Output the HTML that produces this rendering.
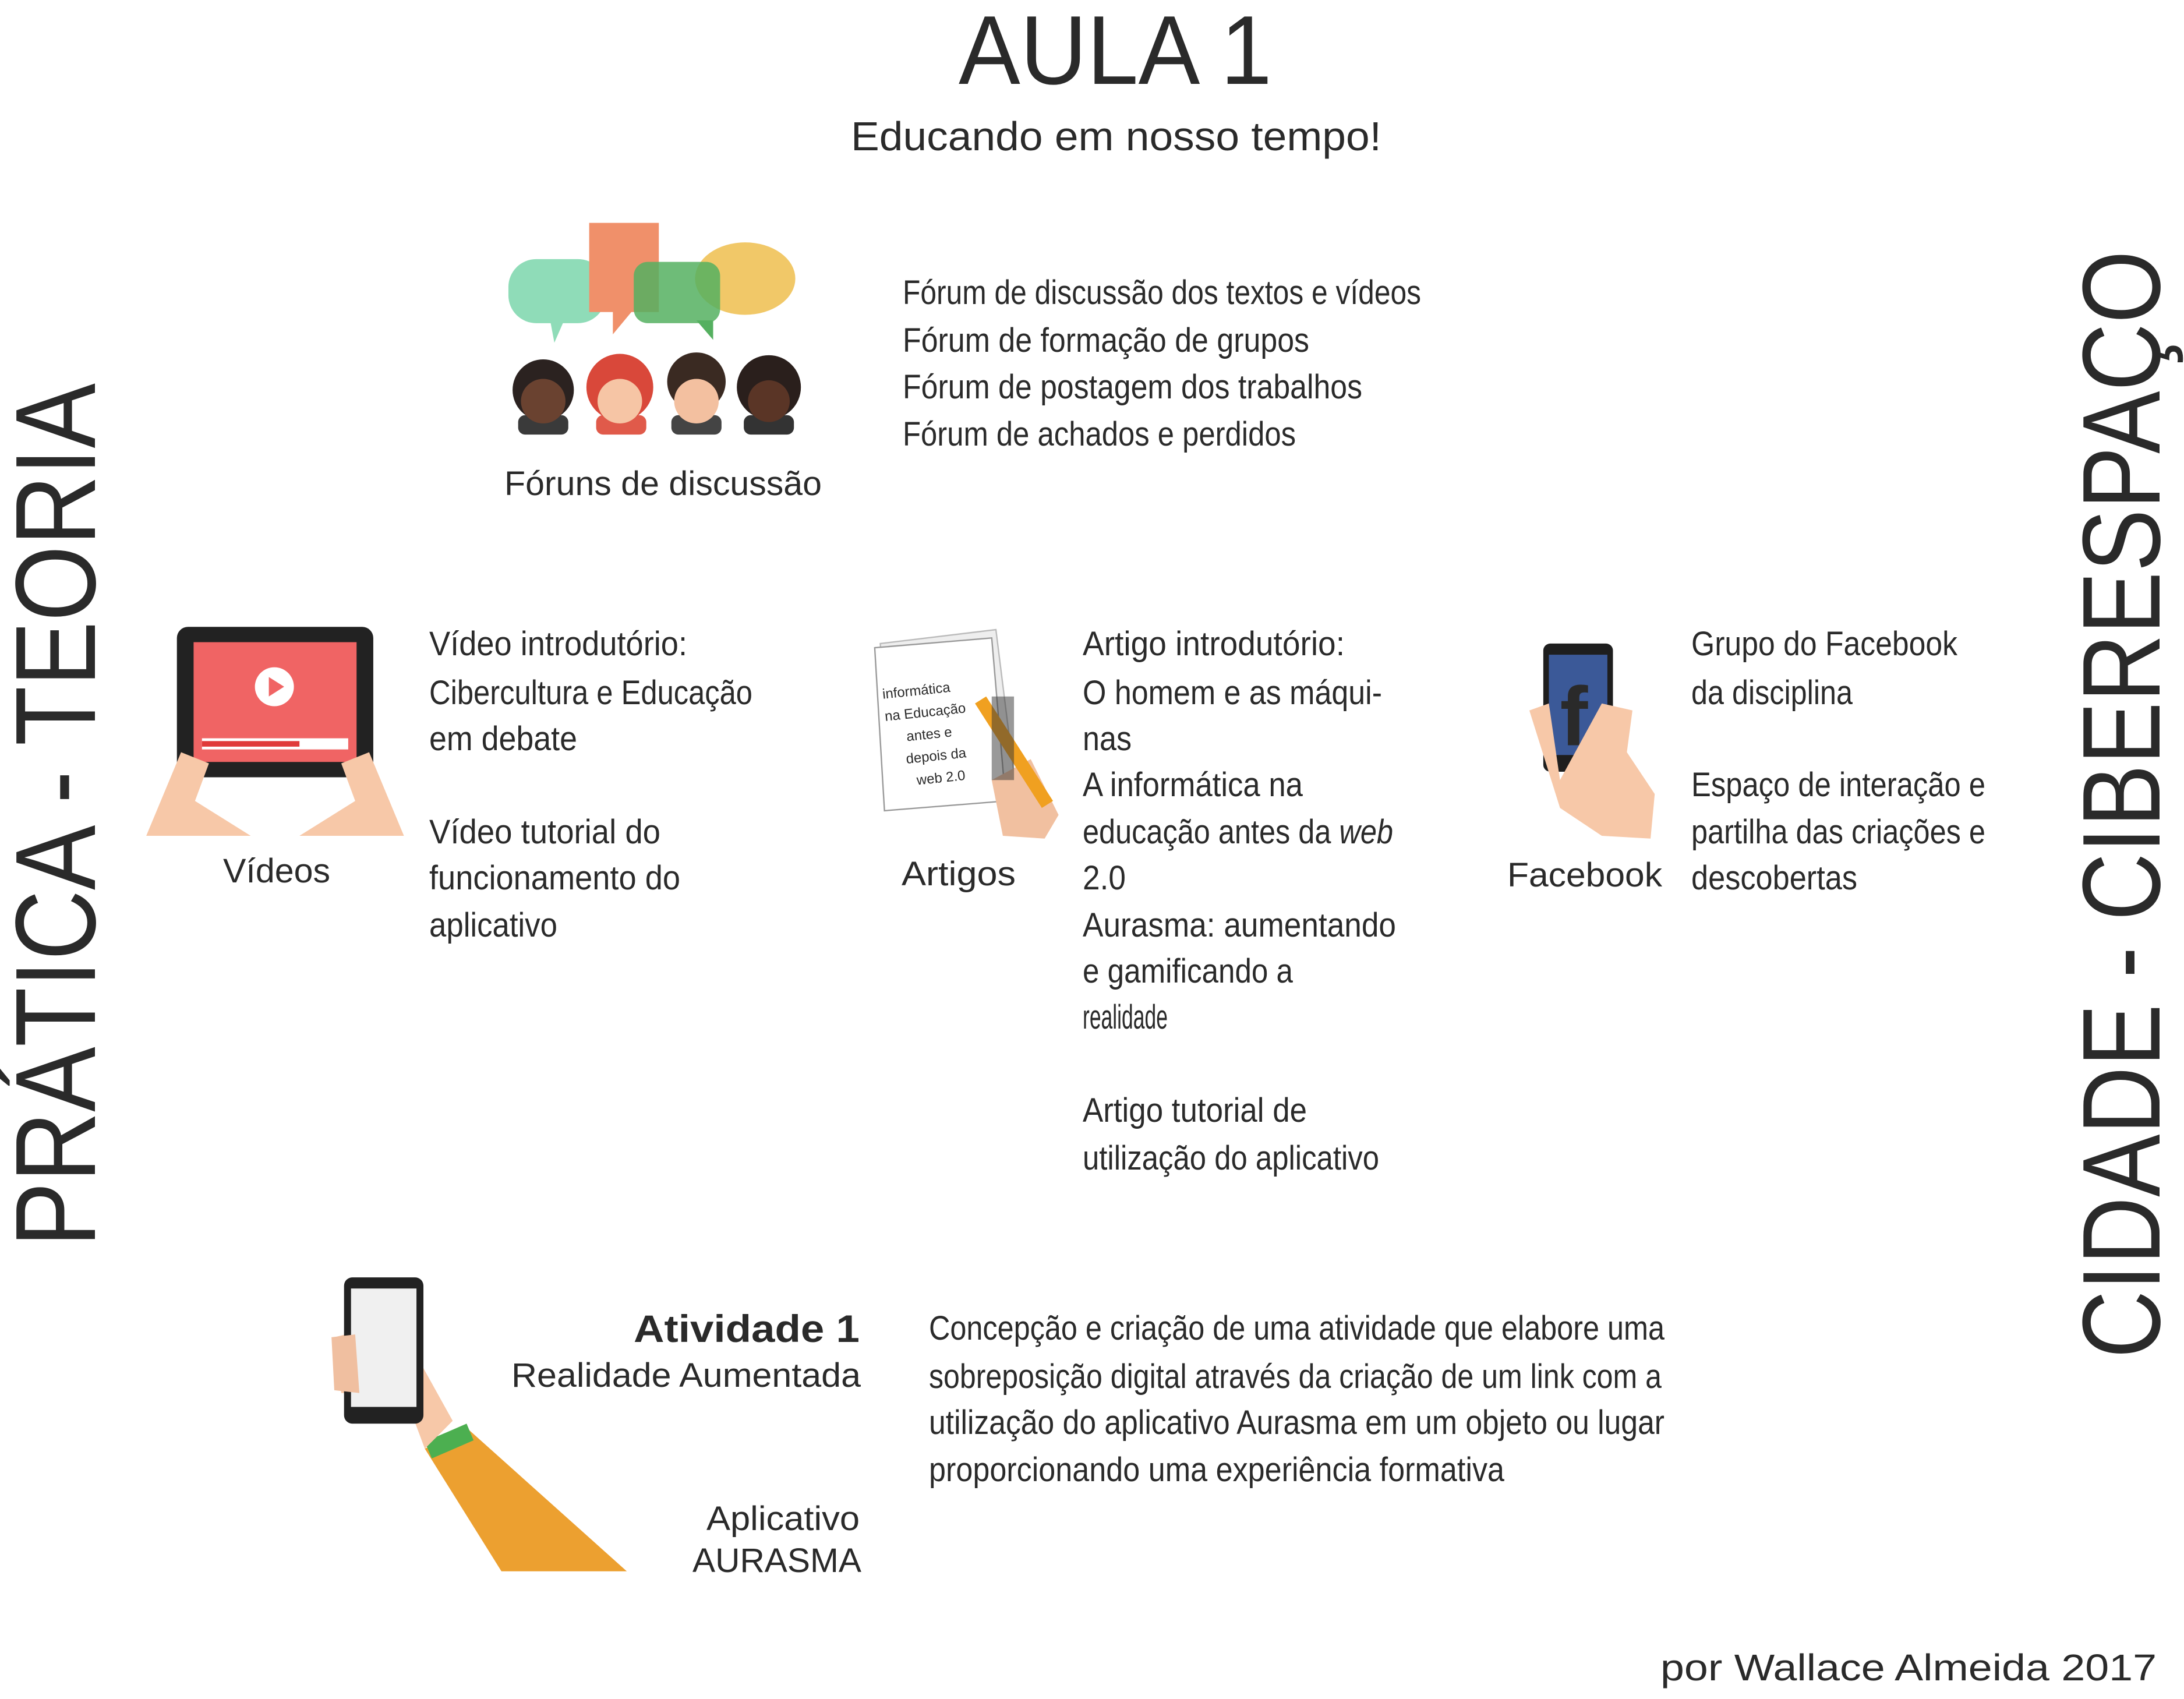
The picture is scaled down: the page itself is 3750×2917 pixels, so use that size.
<!DOCTYPE html>
<html><head><meta charset="utf-8"><style>
html,body{margin:0;padding:0;background:#fff;}
svg{display:block;}
text{font-family:"Liberation Sans",sans-serif;fill:#2a2a2a;}
</style></head><body>
<svg width="3750" height="2917" viewBox="0 0 3750 2917" xmlns="http://www.w3.org/2000/svg">
<rect width="3750" height="2917" fill="#fff"/>
<text x="1646" y="144" font-size="168" textLength="538" lengthAdjust="spacingAndGlyphs">AULA 1</text>
<text x="1461" y="258" font-size="70" textLength="911" lengthAdjust="spacingAndGlyphs">Educando em nosso tempo!</text>
<text transform="translate(163,2141) rotate(-90)" font-size="196" textLength="1483" lengthAdjust="spacingAndGlyphs">PRÁTICA - TEORIA</text>
<text transform="translate(3708,2332) rotate(-90)" font-size="190" textLength="1902" lengthAdjust="spacingAndGlyphs">CIDADE - CIBERESPAÇO</text>

<g font-size="58">
<text x="1550" y="522" textLength="890" lengthAdjust="spacingAndGlyphs">Fórum de discussão dos textos e vídeos</text>
<text x="1550" y="604" textLength="698" lengthAdjust="spacingAndGlyphs">Fórum de formação de grupos</text>
<text x="1550" y="684" textLength="789" lengthAdjust="spacingAndGlyphs">Fórum de postagem dos trabalhos</text>
<text x="1550" y="765" textLength="675" lengthAdjust="spacingAndGlyphs">Fórum de achados e perdidos</text>
<text x="866" y="850" textLength="545" lengthAdjust="spacingAndGlyphs">Fóruns de discussão</text>

<text x="737" y="1125" textLength="443" lengthAdjust="spacingAndGlyphs">Vídeo introdutório:</text>
<text x="737" y="1209" textLength="555" lengthAdjust="spacingAndGlyphs">Cibercultura e Educação</text>
<text x="737" y="1288" textLength="254" lengthAdjust="spacingAndGlyphs">em debate</text>
<text x="737" y="1448" textLength="397" lengthAdjust="spacingAndGlyphs">Vídeo  tutorial do</text>
<text x="737" y="1527" textLength="431" lengthAdjust="spacingAndGlyphs">funcionamento do</text>
<text x="737" y="1608" textLength="220" lengthAdjust="spacingAndGlyphs">aplicativo</text>
<text x="383" y="1515" textLength="184" lengthAdjust="spacingAndGlyphs">Vídeos</text>

<text x="1859" y="1125" textLength="450" lengthAdjust="spacingAndGlyphs">Artigo introdutório:</text>
<text x="1859" y="1209" textLength="514" lengthAdjust="spacingAndGlyphs">O homem e as máqui-</text>
<text x="1859" y="1288" textLength="84" lengthAdjust="spacingAndGlyphs">nas</text>
<text x="1859" y="1367" textLength="378" lengthAdjust="spacingAndGlyphs">A informática na</text>
<text x="1859" y="1448" textLength="533" lengthAdjust="spacingAndGlyphs">educação antes da <tspan font-style="italic">web</tspan></text>
<text x="1859" y="1527" textLength="74" lengthAdjust="spacingAndGlyphs">2.0</text>
<text x="1859" y="1608" textLength="538" lengthAdjust="spacingAndGlyphs">Aurasma: aumentando</text>
<text x="1859" y="1687" textLength="361" lengthAdjust="spacingAndGlyphs">e gamificando a</text>
<text x="1859" y="1766" textLength="146" lengthAdjust="spacingAndGlyphs">realidade</text>
<text x="1859" y="1926" textLength="385" lengthAdjust="spacingAndGlyphs">Artigo tutorial de</text>
<text x="1859" y="2008" textLength="509" lengthAdjust="spacingAndGlyphs">utilização do aplicativo</text>
<text x="1548" y="1520" textLength="196" lengthAdjust="spacingAndGlyphs">Artigos</text>

<text x="2904" y="1125" textLength="457" lengthAdjust="spacingAndGlyphs">Grupo do Facebook</text>
<text x="2904" y="1209" textLength="277" lengthAdjust="spacingAndGlyphs">da disciplina</text>
<text x="2904" y="1367" textLength="505" lengthAdjust="spacingAndGlyphs">Espaço de interação e</text>
<text x="2904" y="1448" textLength="505" lengthAdjust="spacingAndGlyphs">partilha das criações e</text>
<text x="2904" y="1527" textLength="285" lengthAdjust="spacingAndGlyphs">descobertas</text>
<text x="2588" y="1522" textLength="266" lengthAdjust="spacingAndGlyphs">Facebook</text>

<text x="1595" y="2300" textLength="1263" lengthAdjust="spacingAndGlyphs">Concepção e criação de uma atividade que elabore uma</text>
<text x="1595" y="2383" textLength="1258" lengthAdjust="spacingAndGlyphs">sobreposição digital através da criação de um link com a</text>
<text x="1595" y="2462" textLength="1263" lengthAdjust="spacingAndGlyphs">utilização do aplicativo Aurasma em um objeto ou lugar</text>
<text x="1595" y="2543" textLength="988" lengthAdjust="spacingAndGlyphs">proporcionando uma experiência formativa</text>

<text x="1088" y="2304" font-size="66" font-weight="bold" textLength="388" lengthAdjust="spacingAndGlyphs">Atividade 1</text>
<text x="878" y="2381" textLength="600" lengthAdjust="spacingAndGlyphs">Realidade Aumentada</text>
<text x="1213" y="2627" textLength="263" lengthAdjust="spacingAndGlyphs">Aplicativo</text>
<text x="1189" y="2699" textLength="290" lengthAdjust="spacingAndGlyphs">AURASMA</text>
<text x="2851" y="2885" font-size="64" textLength="852" lengthAdjust="spacingAndGlyphs">por Wallace Almeida 2017</text>
</g>

<g transform="scale(2.3916)">
 <rect x="365" y="186" width="70" height="46" rx="20" fill="#8fdcb8"/>
 <polygon points="395,230 405,230 398,246" fill="#8fdcb8"/>
 <rect x="423" y="160" width="50" height="64" fill="#f0906a"/>
 <polygon points="440,222 455,222 440,240" fill="#f0906a"/>
 <ellipse cx="535" cy="200" rx="36" ry="26" fill="#f1c868"/>
 <rect x="455" y="188" width="62" height="44" rx="10" fill="#55b060" opacity="0.85"/>
 <polygon points="500,230 512,230 512,244" fill="#55b060"/>
 <rect x="372" y="298" width="36" height="14" rx="5" fill="#3a3a3a"/>
 <rect x="428" y="298" width="36" height="14" rx="5" fill="#e05a4a"/>
 <rect x="482" y="298" width="36" height="14" rx="5" fill="#444"/>
 <rect x="534" y="298" width="36" height="14" rx="5" fill="#333"/>
 <circle cx="390" cy="280" r="22" fill="#2b2220"/><circle cx="390" cy="288" r="16" fill="#6a4230"/>
 <circle cx="445" cy="278" r="24" fill="#d9483a"/><circle cx="445" cy="288" r="16" fill="#f6c5a5"/>
 <circle cx="500" cy="274" r="21" fill="#3a2a22"/><circle cx="500" cy="288" r="16" fill="#f3c0a0"/>
 <circle cx="552" cy="278" r="23" fill="#2a1f1c"/><circle cx="552" cy="288" r="15" fill="#5a3526"/>
 <rect x="127" y="450" width="141" height="108" rx="8" fill="#222"/>
 <rect x="139" y="461" width="117" height="86" fill="#f06464"/>
 <circle cx="197" cy="493" r="14" fill="#fff"/>
 <polygon points="193,486 193,500 204,493" fill="#f06464"/>
 <rect x="145" y="530" width="105" height="8" fill="#fff"/>
 <rect x="145" y="532" width="70" height="4" fill="#e03a3a"/>
 <path d="M105,600 L130,540 L150,548 L140,575 L180,600 Z" fill="#f7c8a8"/>
 <path d="M290,600 L265,540 L245,548 L255,575 L215,600 Z" fill="#f7c8a8"/>
 <polygon points="632,462 715,452 730,572 640,578" fill="#eee" stroke="#bbb"/>
 <polygon points="628,465 712,458 722,575 635,582" fill="#fff" stroke="#999"/>
 <text x="636" y="498" font-size="10" fill="#555" transform="rotate(-6 670 520)">informática</text>
 <text x="636" y="514" font-size="10" fill="#555" transform="rotate(-6 670 520)">na Educação</text>
 <text x="650" y="530" font-size="10" fill="#555" transform="rotate(-6 670 520)">antes e</text>
 <text x="648" y="546" font-size="10" fill="#555" transform="rotate(-6 670 520)">depois da</text>
 <text x="654" y="562" font-size="10" fill="#555" transform="rotate(-6 670 520)">web 2.0</text>
 <path d="M712,560 L740,545 L760,585 L750,602 L720,600 Z" fill="#f1c0a0"/>
 <polygon points="700,505 708,500 756,575 748,580" fill="#f0a020"/>
 <rect x="712" y="500" width="16" height="60" fill="#333" opacity="0.5"/>
 <rect x="1108" y="462" width="50" height="92" rx="5" fill="#1e1e1e"/>
 <rect x="1112" y="470" width="42" height="72" fill="#3b5998"/>
 <text x="1120" y="535" font-size="60" font-weight="bold" fill="#fff">f</text>
 <path d="M1098,510 L1112,505 L1120,560 L1150,505 L1172,510 L1168,540 L1188,570 L1185,602 L1150,600 L1120,580 Z" fill="#f7c8a8"/>
 <path d="M305,1040 L335,1025 L450,1128 L360,1128 Z" fill="#eca030"/>
 <polygon points="305,1035 335,1022 340,1034 310,1047" fill="#4caf50"/>
 <path d="M240,960 L260,955 L300,975 L325,1020 L305,1040 L290,1000 L245,1000 Z" fill="#f7c8a8"/>
 <rect x="247" y="917" width="57" height="105" rx="6" fill="#222"/>
 <rect x="252" y="925" width="47" height="85" fill="#f0f0f0"/>
 <path d="M238,960 L255,958 L258,1000 L240,998 Z" fill="#f0bfa0"/>
</g>
</svg>
</body></html>
